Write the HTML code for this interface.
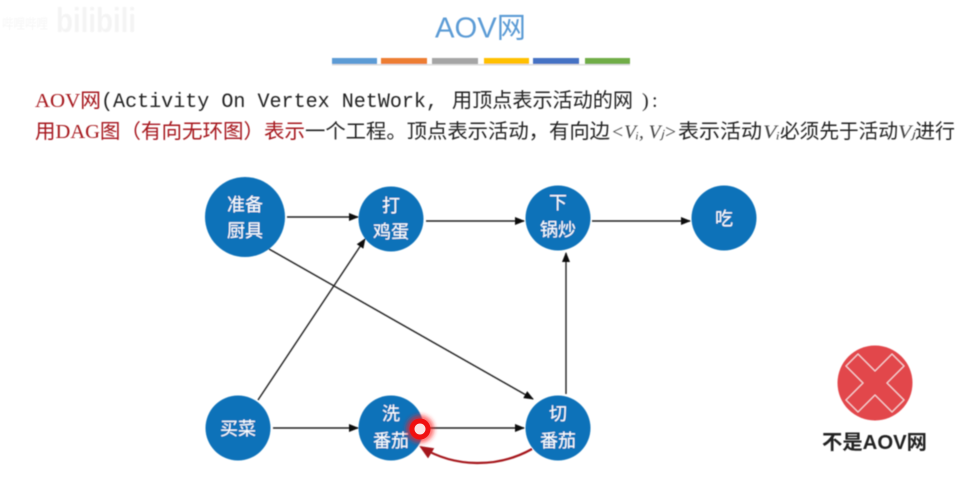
<!DOCTYPE html>
<html><head><meta charset="utf-8">
<style>
html,body{margin:0;padding:0;background:#fff;width:963px;height:501px;overflow:hidden}
svg{display:block}
text{font-family:"Liberation Sans","Noto Sans CJK SC",sans-serif}
.c{font-family:"Liberation Serif","Noto Sans CJK SC",serif;font-size:20px;fill:#222}
.r{fill:#a5161b}
.m{font-family:"Liberation Mono","Noto Sans CJK SC",monospace;font-size:20px;fill:#222}
.i{font-family:"Liberation Serif",serif;font-style:italic;font-size:19px;fill:#444}
.n{fill:#fff;font-size:18px;text-anchor:middle}
</style></head><body>
<svg width="963" height="501" viewBox="0 0 963 501" xmlns="http://www.w3.org/2000/svg">
<defs>
<marker id="a" markerWidth="10" markerHeight="8" refX="9" refY="4" orient="auto" markerUnits="userSpaceOnUse"><path d="M0,0L10,4L0,8z" fill="#111"/></marker>
<marker id="b" markerWidth="14" markerHeight="12" refX="12" refY="6" orient="auto" markerUnits="userSpaceOnUse"><path d="M0,0L14,6L0,12z" fill="#a5161b"/></marker>
<filter id="s" x="-5%" y="-5%" width="110%" height="110%"><feGaussianBlur stdDeviation="0.45"/></filter>
<filter id="g" x="-60%" y="-60%" width="220%" height="220%"><feGaussianBlur stdDeviation="2.5"/></filter>
</defs>
<g filter="url(#s)">
<text x="56" y="32" font-size="34" font-weight="700" fill="#f4f4f4" textLength="80" lengthAdjust="spacingAndGlyphs">bilibili</text>
<text x="2" y="29" font-size="14" fill="#f6f6f6" textLength="46" lengthAdjust="spacingAndGlyphs">哔哩哔哩</text>

<text x="435" y="37.5" font-size="29" fill="#5b9bd5" textLength="91" lengthAdjust="spacingAndGlyphs">AOV网</text>
<g>
<rect x="332" y="58" width="45" height="6" fill="#5b9bd5"/>
<rect x="381" y="58" width="46" height="6" fill="#ed7d31"/>
<rect x="432" y="58" width="46" height="6" fill="#a5a5a5"/>
<rect x="484" y="58" width="45" height="6" fill="#ffc000"/>
<rect x="533" y="58" width="46" height="6" fill="#4472c4"/>
<rect x="585" y="58" width="45" height="6" fill="#70ad47"/>
<rect x="332" y="64" width="298" height="1.5" fill="#ddd"/>
</g>

<text class="c r" x="35" y="107" textLength="66" lengthAdjust="spacingAndGlyphs">AOV网</text>
<text class="m" x="101" y="107" textLength="337" lengthAdjust="spacingAndGlyphs">(Activity On Vertex NetWork,</text>
<text class="c" x="452" y="107" textLength="181" lengthAdjust="spacingAndGlyphs">用顶点表示活动的网</text>
<text class="c" x="642" y="107">)</text>
<text class="c" x="652" y="107">:</text>

<text class="c r" x="35" y="138" textLength="270" lengthAdjust="spacingAndGlyphs">用DAG图（有向无环图）表示</text>
<text class="c" x="305" y="138" textLength="305" lengthAdjust="spacingAndGlyphs">一个工程。顶点表示活动，有向边</text>
<text class="i" x="611" y="138" textLength="66" lengthAdjust="spacingAndGlyphs">&lt;Vᵢ, Vⱼ&gt;</text>
<text class="c" x="678" y="138" textLength="84" lengthAdjust="spacingAndGlyphs">表示活动</text>
<text class="i" x="763" y="138" textLength="17" lengthAdjust="spacingAndGlyphs">Vᵢ</text>
<text class="c" x="780" y="138" textLength="118" lengthAdjust="spacingAndGlyphs">必须先于活动</text>
<text class="i" x="898" y="138" textLength="17" lengthAdjust="spacingAndGlyphs">Vⱼ</text>
<text class="c" x="915" y="138" textLength="40" lengthAdjust="spacingAndGlyphs">进行</text>

<g stroke="#222" stroke-width="1.4" fill="none">
<line x1="287" y1="217" x2="358" y2="217" marker-end="url(#a)"/>
<line x1="426" y1="221" x2="524" y2="221" marker-end="url(#a)"/>
<line x1="592" y1="221" x2="690" y2="221" marker-end="url(#a)"/>
<line x1="269" y1="249" x2="533" y2="399" marker-end="url(#a)"/>
<line x1="258" y1="400" x2="365" y2="239" marker-end="url(#a)"/>
<line x1="566" y1="394" x2="566" y2="253" marker-end="url(#a)"/>
<line x1="273" y1="428" x2="358" y2="428" marker-end="url(#a)"/>
<line x1="426" y1="428" x2="524" y2="428" marker-end="url(#a)"/>
</g>

<g fill="#0b72b9">
<circle cx="245" cy="217" r="40"/>
<circle cx="391" cy="219" r="32.5"/>
<circle cx="558" cy="218" r="32.5"/>
<circle cx="724" cy="218" r="32.5"/>
<circle cx="238" cy="428" r="32.5"/>
<circle cx="391" cy="428" r="32.5"/>
<circle cx="558" cy="428" r="32.5"/>
</g>

<text class="n" x="245" y="211">准备</text>
<text class="n" x="245" y="237">厨具</text>
<text class="n" x="391" y="212">打</text>
<text class="n" x="391" y="238">鸡蛋</text>
<text class="n" x="558" y="209">下</text>
<text class="n" x="558" y="236">锅炒</text>
<text class="n" x="724" y="225">吃</text>
<text class="n" x="238" y="435">买菜</text>
<text class="n" x="391" y="420">洗</text>
<text class="n" x="391" y="447">番茄</text>
<text class="n" x="558" y="420">切</text>
<text class="n" x="558" y="447">番茄</text>

<path d="M532,449C498,468 455,468 421,447" fill="none" stroke="#a5161b" stroke-width="2.2" marker-end="url(#b)"/>

<circle cx="875" cy="383" r="37.5" fill="#e2474c"/>
<path d="M875,371L892,354L904,366L887,383L904,400L892,412L875,395L858,412L846,400L863,383L846,366L858,354Z" fill="#e2474c" stroke="#f6d9da" stroke-width="1.1"/>
<text x="822" y="449" font-size="20" font-weight="700" fill="#222" textLength="105" lengthAdjust="spacingAndGlyphs">不是AOV网</text>
</g>
<circle cx="420" cy="429" r="14" fill="#ff1a1a" opacity=".65" filter="url(#g)"/>
<circle cx="420" cy="429" r="10.5" fill="#f01010"/>
<circle cx="420" cy="429" r="5.5" fill="#fbe3e3"/>
</svg>
</body></html>
